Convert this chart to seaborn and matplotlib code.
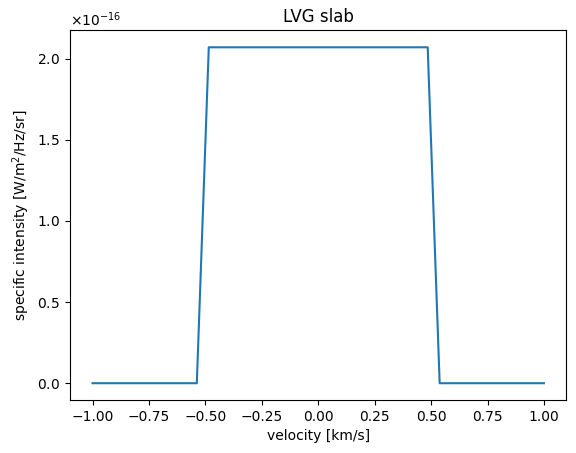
import matplotlib
matplotlib.use("Agg")
import matplotlib.pyplot as plt
import seaborn as sns
import numpy as np

velocity = [-1.0, -0.538, -0.485, 0.485, 0.538, 1.0]
intensity = [0.0, 0.0, 2.07e-16, 2.07e-16, 0.0, 0.0]

fig, ax = plt.subplots(figsize=(5.76, 4.53), dpi=100)
sns.lineplot(x=velocity, y=intensity, ax=ax, color="#1f77b4", sort=False)
ax.ticklabel_format(axis="y", style="sci", useMathText=True)
ax.set_title("LVG slab")
ax.set_xlabel("velocity [km/s]")
ax.set_ylabel("specific intensity [W/m$^2$/Hz/sr]")
fig.subplots_adjust(left=0.1215, right=0.9835, bottom=0.117, top=0.9327)
fig.savefig("out.png", dpi=100)
